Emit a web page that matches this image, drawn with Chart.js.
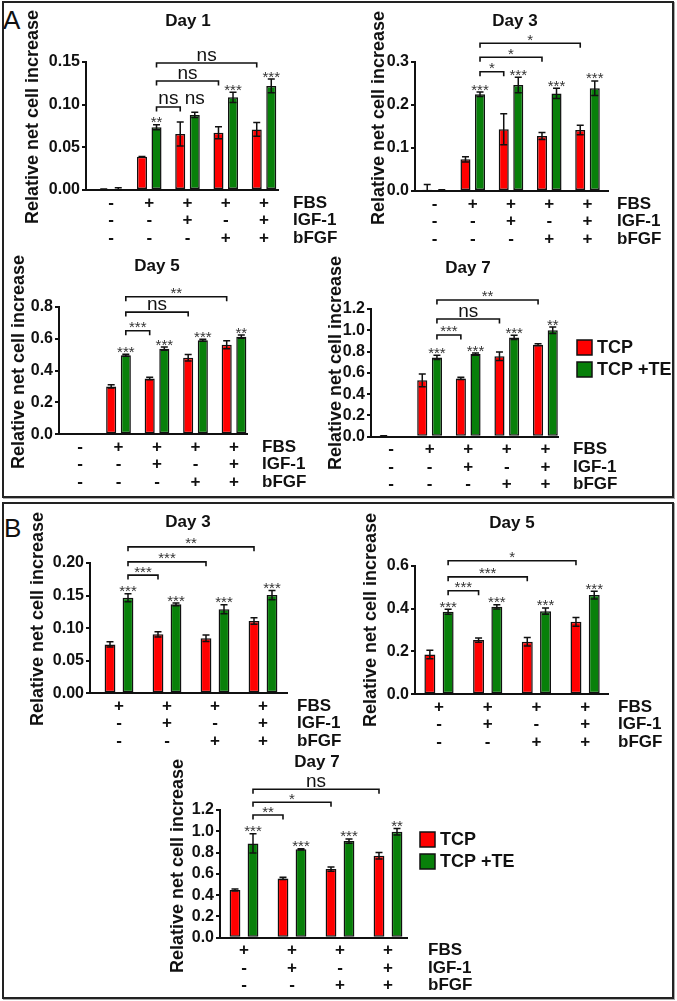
<!DOCTYPE html>
<html>
<head>
<meta charset="utf-8">
<script src="https://cdn.jsdelivr.net/npm/chart.js@4.4.1/dist/chart.umd.min.js"></script>
<style>
body{margin:0;background:#fff;width:677px;height:1001px;position:relative;overflow:hidden;font-family:"Liberation Sans",Arial,sans-serif}
canvas{position:absolute}
.frame{position:absolute;border:2px solid #222;box-shadow:1px 1px 0 #aaa}
.letter{position:absolute;font-size:26px;line-height:26px;color:#111}
</style>
</head>
<body>
<div class="frame" style="left:2px;top:1px;width:668px;height:493px"></div>
<div class="frame" style="left:2px;top:502px;width:668px;height:493px"></div>
<div class="letter" style="left:3px;top:7px">A</div>
<div class="letter" style="left:4px;top:515px">B</div>
<canvas id="a1"></canvas>
<canvas id="a3"></canvas>
<canvas id="a5"></canvas>
<canvas id="a7"></canvas>
<canvas id="b3"></canvas>
<canvas id="b5"></canvas>
<canvas id="b7"></canvas>
<script>
// treatment table (rows under the x axis)
const rowNames = ['FBS', 'IGF-1', 'bFGF'];
const fbsA = ['-', '+', '+', '+', '+'];
const igfA = ['-', '-', '+', '-', '+'];
const bfgfA = ['-', '-', '-', '+', '+'];
const fbsB = ['+', '+', '+', '+'];
const igfB = ['-', '+', '-', '+'];
const bfgfB = ['-', '-', '+', '+'];

// Panel A, Day 1
const tcpA1 = [0.0008, 0.039, 0.0656, 0.067, 0.071];
const tcpA1Err = [0.0004, 0.0004, 0.014, 0.007, 0.008];
const teA1 = [0.0012, 0.0735, 0.088, 0.1086, 0.122];
const teA1Err = [0.0015, 0.003, 0.003, 0.006, 0.008];
const starsA1 = ['', '**', 'ns', '***', '***'];
const brLabA1 = ['ns', 'ns', 'ns'];
const brToA1 = [2, 3, 4];
const brLevA1 = [0.0973, 0.1277, 0.1488];
const ticksA1 = ['0.00', '0.05', '0.10', '0.15'];

// Panel A, Day 3
const tcpA3 = [0.003, 0.0737, 0.1435, 0.128, 0.142];
const tcpA3Err = [0.012, 0.006, 0.036, 0.008, 0.011];
const teA3 = [0.002, 0.225, 0.2465, 0.227, 0.239];
const teA3Err = [0.001, 0.005, 0.018, 0.012, 0.017];
const starsA3 = ['', '***', '***', '***', '***'];
const brLabA3 = ['*', '*', '*'];
const brToA3 = [2, 3, 4];
const brLevA3 = [0.2774, 0.311, 0.3435];
const ticksA3 = ['0.0', '0.1', '0.2', '0.3'];

// Panel A, Day 5
const tcpA5 = [0.002, 0.30, 0.35, 0.48, 0.562];
const tcpA5Err = [0.001, 0.01, 0.008, 0.02, 0.025];
const teA5 = [0.002, 0.496, 0.537, 0.59, 0.612];
const teA5Err = [0.001, 0.006, 0.01, 0.006, 0.01];
const starsA5 = ['', '***', '***', '***', '**'];
const brLabA5 = ['***', 'ns', '**'];
const brToA5 = [2, 3, 4];
const brLevA5 = [0.649, 0.766, 0.862];
const ticksA5 = ['0.0', '0.2', '0.4', '0.6', '0.8'];

// Panel A, Day 7
const tcpA7 = [0.006, 0.53, 0.548, 0.757, 0.864];
const tcpA7Err = [0.002, 0.06, 0.01, 0.04, 0.01];
const teA7 = [0, 0.745, 0.776, 0.933, 1.0];
const teA7Err = [0, 0.02, 0.01, 0.02, 0.03];
const starsA7 = ['', '***', '***', '***', '**'];
const brLabA7 = ['***', 'ns', '**'];
const brToA7 = [2, 3, 4];
const brLevA7 = [0.956, 1.106, 1.285];
const ticks12 = ['0.0', '0.2', '0.4', '0.6', '0.8', '1.0', '1.2'];

// Panel B, Day 3
const tcpB3 = [0.075, 0.0905, 0.0844, 0.111];
const tcpB3Err = [0.004, 0.004, 0.005, 0.005];
const teB3 = [0.1467, 0.1365, 0.129, 0.1507];
const teB3Err = [0.006, 0.002, 0.007, 0.007];
const starsB3 = ['***', '***', '***', '***'];
const brLabB3 = ['***', '***', '**'];
const brToB3 = [1, 2, 3];
const brLevB3 = [0.1814, 0.2018, 0.2248];
const ticksB3 = ['0.00', '0.05', '0.10', '0.15', '0.20'];

// Panel B, Day 5
const tcpB5 = [0.186, 0.253, 0.245, 0.338];
const tcpB5Err = [0.02, 0.01, 0.02, 0.02];
const teB5 = [0.385, 0.408, 0.388, 0.463];
const teB5Err = [0.012, 0.01, 0.015, 0.018];
const starsB5 = ['***', '***', '***', '***'];
const brLabB5 = ['***', '***', '*'];
const brToB5 = [1, 2, 3];
const brLevB5 = [0.483, 0.548, 0.623];
const ticksB5 = ['0.0', '0.2', '0.4', '0.6'];

// Panel B, Day 7
const tcpB7 = [0.448, 0.557, 0.645, 0.77];
const tcpB7Err = [0.01, 0.01, 0.02, 0.03];
const teB7 = [0.886, 0.83, 0.908, 0.995];
const teB7Err = [0.09, 0.005, 0.02, 0.03];
const starsB7 = ['***', '***', '***', '**'];
const brLabB7 = ['**', '*', 'ns'];
const brToB7 = [1, 2, 3];
const brLevB7 = [1.153, 1.273, 1.395];

const RED = '#ff0000';
const GREEN = '#08800a';
const FONT = '"Liberation Sans", Arial, sans-serif';

function drawTable(ctx, chart, c) {
    const xs = chart.scales.x;
    const B = chart.chartArea.bottom;
    const offs = [13, 30.5, 48];
    ctx.font = 'bold 17px ' + FONT;
    ctx.fillStyle = '#111';
    ctx.textBaseline = 'middle';
    c.rows.forEach((row, r) => {
        ctx.textAlign = 'center';
        row.forEach((s, i) => ctx.fillText(s, xs.getPixelForValue(i), B + offs[r]));
        ctx.textAlign = 'left';
        ctx.fillText(rowNames[r], c.rowLabelX - c.box[0], B + offs[r]);
    });
}

function makeChart(id, c) {
    const cv = document.getElementById(id);
    const [x0, y0, x1, y1] = c.box;
    const [L, T, R, B] = c.plot;
    cv.width = x1 - x0;
    cv.height = y1 - y0;
    cv.style.left = x0 + 'px';
    cv.style.top = y0 + 'px';
    const xmin = -(c.c0 - L) / c.step;
    const xmax = xmin + (R - L) / c.step;
    const tickVals = c.ticks.map(parseFloat);

    const overlay = {
        id: 'overlay',
        afterDatasetsDraw(chart) {
            const ctx = chart.ctx;
            const ys = chart.scales.y;
            const red = chart.getDatasetMeta(0).data;
            const green = chart.getDatasetMeta(1).data;
            ctx.save();
            // error bars
            ctx.strokeStyle = '#111';
            ctx.lineWidth = 1.5;
            [[red, c.tcp, c.tcpErr], [green, c.te, c.teErr]].forEach(([els, v, e]) => {
                els.forEach((el, i) => {
                    if (!e[i]) return;
                    const top = ys.getPixelForValue(v[i] + e[i]);
                    const bot = ys.getPixelForValue(Math.max(0, v[i] - e[i]));
                    ctx.beginPath();
                    ctx.moveTo(el.x, top); ctx.lineTo(el.x, bot);
                    ctx.moveTo(el.x - 3.5, top); ctx.lineTo(el.x + 3.5, top);
                    ctx.moveTo(el.x - 3.5, bot); ctx.lineTo(el.x + 3.5, bot);
                    ctx.stroke();
                });
            });
            // stars over green bars
            ctx.textAlign = 'center';
            ctx.textBaseline = 'alphabetic';
            c.stars.forEach((s, i) => {
                if (!s) return;
                const top = ys.getPixelForValue(c.te[i] + c.teErr[i]);
                if (s === 'ns') {
                    ctx.font = '19px ' + FONT; ctx.fillStyle = '#111';
                    ctx.fillText(s, green[i].x, top - 8);
                } else {
                    ctx.font = '15px ' + FONT; ctx.fillStyle = '#333';
                    ctx.fillText(s, green[i].x, top + 2.5);
                }
            });
            // comparison brackets
            c.brTo.forEach((to, k) => {
                const xa = green[c.brFrom].x;
                const xb = red[to].x;
                const y = ys.getPixelForValue(c.brLev[k]);
                ctx.strokeStyle = '#111';
                ctx.lineWidth = 1.6;
                ctx.beginPath();
                ctx.moveTo(xa, y + 4.5); ctx.lineTo(xa, y); ctx.lineTo(xb, y); ctx.lineTo(xb, y + 4.5);
                ctx.stroke();
                const lab = c.brLab[k];
                if (lab === 'ns') {
                    ctx.font = '19px ' + FONT; ctx.fillStyle = '#111';
                    ctx.fillText(lab, (xa + xb) / 2, y - 2.5);
                } else {
                    ctx.font = '15px ' + FONT; ctx.fillStyle = '#333';
                    ctx.fillText(lab, (xa + xb) / 2, y + 1.5);
                }
            });
            ctx.restore();
        },
        afterDraw(chart) {
            const ctx = chart.ctx;
            ctx.save();
            // title
            ctx.font = 'bold 17px ' + FONT;
            ctx.fillStyle = '#111';
            ctx.textAlign = 'center';
            ctx.textBaseline = 'alphabetic';
            ctx.fillText(c.title, c.titlePos[0] - x0, c.titlePos[1] - y0);
            // y axis title
            ctx.save();
            ctx.translate(c.yTitlePos[0] - x0, c.yTitlePos[1] - y0);
            ctx.rotate(-Math.PI / 2);
            ctx.font = 'bold 18px ' + FONT;
            ctx.textBaseline = 'middle';
            ctx.fillText('Relative net cell increase', 0, 0);
            ctx.restore();
            drawTable(ctx, chart, c);
            // legend
            if (c.legend) {
                const lx = c.legend[0] - x0, ly = c.legend[1] - y0;
                [[RED, 'TCP'], [GREEN, 'TCP +TE']].forEach(([col, txt], k) => {
                    const yy = ly + k * 22;
                    ctx.fillStyle = col;
                    ctx.fillRect(lx, yy, 15, 15);
                    ctx.strokeStyle = '#111';
                    ctx.lineWidth = 1.5;
                    ctx.strokeRect(lx, yy, 15, 15);
                    ctx.fillStyle = '#111';
                    ctx.font = 'bold 18px ' + FONT;
                    ctx.textAlign = 'left';
                    ctx.textBaseline = 'middle';
                    ctx.fillText(txt, lx + 20, yy + 8);
                });
            }
            ctx.restore();
        }
    };

    return new Chart(cv, {
        type: 'bar',
        data: {
            datasets: [{
                label: 'TCP',
                data: c.tcp.map((v, i) => ({x: i, y: v})),
                backgroundColor: RED,
                borderColor: '#111',
                borderWidth: 1.5,
                borderSkipped: false,
                categoryPercentage: c.catPct,
                barPercentage: c.barPct
            }, {
                label: 'TCP +TE',
                data: c.te.map((v, i) => ({x: i, y: v})),
                backgroundColor: GREEN,
                borderColor: '#111',
                borderWidth: 1.5,
                borderSkipped: false,
                categoryPercentage: c.catPct,
                barPercentage: c.barPct
            }]
        },
        options: {
            responsive: false,
            animation: false,
            layout: {padding: {left: 0, top: T - y0, right: x1 - R, bottom: 0}},
            plugins: {legend: {display: false}, tooltip: {enabled: false}},
            scales: {
                x: {
                    type: 'linear',
                    offset: false,
                    min: xmin,
                    max: xmax,
                    ticks: {display: false, stepSize: 1, includeBounds: false},
                    grid: {display: false},
                    border: {display: true, color: '#111', width: 2},
                    afterFit: s => { s.height = y1 - B; }
                },
                y: {
                    min: 0,
                    max: tickVals[tickVals.length - 1],
                    afterBuildTicks: s => { s.ticks = tickVals.map(v => ({value: v})); },
                    ticks: {
                        autoSkip: false,
                        padding: 2,
                        color: '#111',
                        font: {family: FONT, size: 16, weight: 'bold'},
                        callback: (v, i) => c.ticks[i]
                    },
                    grid: {display: true, drawOnChartArea: false, drawTicks: true, tickLength: 4, color: '#111', lineWidth: 2},
                    border: {display: true, color: '#111', width: 2},
                    afterFit: s => { s.width = L - x0; }
                }
            }
        },
        plugins: [overlay]
    });
}

const rowsA = [fbsA, igfA, bfgfA];
const rowsB = [fbsB, igfB, bfgfB];
const barsA = {catPct: 0.76, barPct: 0.69};
const barsB = {catPct: 0.75, barPct: 0.6};

makeChart('a1', Object.assign({
    title: 'Day 1', tcp: tcpA1, tcpErr: tcpA1Err, te: teA1, teErr: teA1Err, stars: starsA1,
    brFrom: 1, brTo: brToA1, brLev: brLevA1, brLab: brLabA1, ticks: ticksA1, rows: rowsA,
    box: [4, 3, 345, 248], plot: [86, 62, 278, 190], c0: 111, step: 38.25,
    titlePos: [188, 26], yTitlePos: [33, 117], rowLabelX: 293
}, barsA));

makeChart('a3', Object.assign({
    title: 'Day 3', tcp: tcpA3, tcpErr: tcpA3Err, te: teA3, teErr: teA3Err, stars: starsA3,
    brFrom: 1, brTo: brToA3, brLev: brLevA3, brLab: brLabA3, ticks: ticksA3, rows: rowsA,
    box: [345, 3, 673, 248], plot: [415, 62, 608, 191], c0: 434.5, step: 38.25,
    titlePos: [515, 26], yTitlePos: [379, 118], rowLabelX: 617
}, barsA));

makeChart('a5', Object.assign({
    title: 'Day 5', tcp: tcpA5, tcpErr: tcpA5Err, te: teA5, teErr: teA5Err, stars: starsA5,
    brFrom: 1, brTo: brToA5, brLev: brLevA5, brLab: brLabA5, ticks: ticksA5, rows: rowsA,
    box: [4, 248, 322, 493], plot: [59, 306.7, 247, 434.3], c0: 80, step: 38.5,
    titlePos: [157, 270.5], yTitlePos: [19, 362], rowLabelX: 262
}, barsA));

makeChart('a7', Object.assign({
    title: 'Day 7', tcp: tcpA7, tcpErr: tcpA7Err, te: teA7, teErr: teA7Err, stars: starsA7,
    brFrom: 1, brTo: brToA7, brLev: brLevA7, brLab: brLabA7, ticks: ticks12, rows: rowsA,
    box: [322, 248, 673, 493], plot: [371, 309, 558, 436.7], c0: 391, step: 38.6,
    titlePos: [468, 272.5], yTitlePos: [336, 363], rowLabelX: 573, legend: [577, 340]
}, barsA));

makeChart('b3', Object.assign({
    title: 'Day 3', tcp: tcpB3, tcpErr: tcpB3Err, te: teB3, teErr: teB3Err, stars: starsB3,
    brFrom: 0, brTo: brToB3, brLev: brLevB3, brLab: brLabB3, ticks: ticksB3, rows: rowsB,
    box: [4, 505, 345, 750], plot: [90, 563, 287, 693.3], c0: 119, step: 48,
    titlePos: [188, 527], yTitlePos: [38, 619], rowLabelX: 297
}, barsB));

makeChart('b5', Object.assign({
    title: 'Day 5', tcp: tcpB5, tcpErr: tcpB5Err, te: teB5, teErr: teB5Err, stars: starsB5,
    brFrom: 0, brTo: brToB5, brLev: brLevB5, brLab: brLabB5, ticks: ticksB5, rows: rowsB,
    box: [345, 505, 673, 750], plot: [415, 565.7, 608, 694.3], c0: 439, step: 48.7,
    titlePos: [512, 528], yTitlePos: [371, 620], rowLabelX: 618
}, barsB));

makeChart('b7', Object.assign({
    title: 'Day 7', tcp: tcpB7, tcpErr: tcpB7Err, te: teB7, teErr: teB7Err, stars: starsB7,
    brFrom: 0, brTo: brToB7, brLev: brLevB7, brLab: brLabB7, ticks: ticks12, rows: rowsB,
    box: [100, 748, 570, 996], plot: [220, 810, 407, 937.7], c0: 244, step: 48,
    titlePos: [317, 767], yTitlePos: [178, 866], rowLabelX: 428, legend: [420, 832]
}, barsB));
</script>
</body>
</html>
